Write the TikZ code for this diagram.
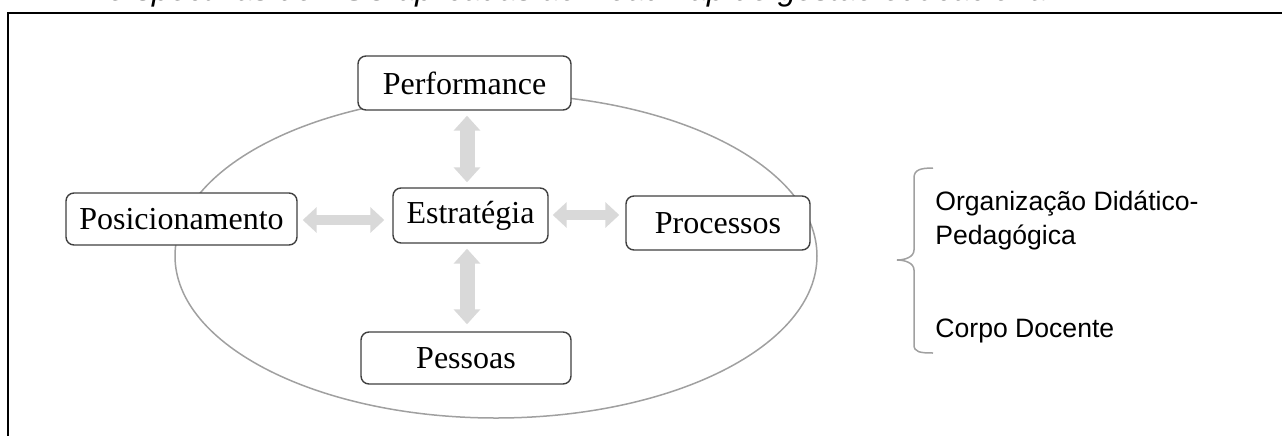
\documentclass[tikz,border=0pt]{standalone}
\usepackage{fontspec}
\usetikzlibrary{arrows.meta}
\newfontfamily\tnr{Liberation Serif}
\newfontfamily\arial{Liberation Sans}
\definecolor{arrgray}{HTML}{D9D9D9}
\definecolor{ellgray}{HTML}{A0A0A0}
\definecolor{boxline}{HTML}{404040}
\tikzset{
  bsbox/.style={draw=boxline, line width=0.7pt, rounded corners=4pt, fill=white,
    inner sep=0pt, font=\tnr\fontsize{16pt}{19pt}\selectfont},
  varrow/.style={draw=arrgray, line width=7.5pt,
    {Triangle[length=7.5pt,width=13pt]}-{Triangle[length=7.5pt,width=13pt]}},
  harrow/.style={draw=arrgray, line width=5pt,
    {Triangle[length=7pt,width=12.5pt]}-{Triangle[length=7pt,width=12.5pt]}},
  sidetext/.style={font=\arial\fontsize{13.3pt}{17pt}\selectfont, inner sep=0pt, anchor=base west, align=left},
}
\begin{document}
\begin{tikzpicture}[x=0.5pt,y=-0.5pt]
\useasboundingbox (0,0) rectangle (1282,435);
\begin{scope}
\clip (0,0) rectangle (1282,435);
% cut-off caption at the top
\node[font=\arial\itshape\fontsize{16pt}{19pt}\selectfont, inner sep=0pt, anchor=base west] (cap) at (86,0)
  {Perspectivas do BSC aplicadas ao Roadmap de gestão educacional};
% frame
\draw[line width=1pt] (1290,13) -- (8,13) -- (8,440);
\end{scope}
% ellipse
\draw[ellgray, line width=0.75pt] (496,256) ellipse [x radius=160.5pt, y radius=81pt];
% boxes
\node[bsbox, minimum width=106.5pt, minimum height=27pt] (perf) at (464.5,83) {Performance};
\node[bsbox, minimum width=115.5pt, minimum height=26pt] (posi) at (181.5,219) {Posicionamento};
\node[bsbox, minimum width=77.5pt, minimum height=27.5pt] (strat) at (470.5,215.5) {Estratégia};
\node[bsbox, minimum width=92pt, minimum height=27pt] (proc) at (718,223) {Processos};
\node[bsbox, minimum width=105pt, minimum height=26pt] (pess) at (466,358) {Pessoas};
% arrows
\coordinate (ax) at (467,0);
\coordinate (ayl) at (0,220);
\coordinate (ayr) at (0,215);
\draw[varrow, shorten <=2.5pt, shorten >=2.5pt] (perf.south -| ax) -- (strat.north -| ax);
\draw[varrow, shorten <=2.5pt, shorten >=3.5pt] (strat.south -| ax) -- (pess.north -| ax);
\draw[harrow, shorten <=2.5pt, shorten >=4pt] (posi.east |- ayl) -- (strat.west |- ayl);
\draw[harrow, shorten <=2pt, shorten >=3pt] (strat.east |- ayr) -- (proc.west |- ayr);
% brace
\draw[ellgray, line width=0.75pt] (933,168) .. controls (920,168) and (914,170) .. (914,178)
  -- (914,250) .. controls (914,257) and (905,260) .. (897,260)
  .. controls (905,260) and (914,263) .. (914,270)
  -- (914,345) .. controls (914,352) and (920,353) .. (933,353);
% side texts
\node[sidetext] (org) at (935,244) {Organização Didático-\\Pedagógica};
\node[sidetext] (corpo) at (935,337) {Corpo Docente};
\end{tikzpicture}
\end{document}
